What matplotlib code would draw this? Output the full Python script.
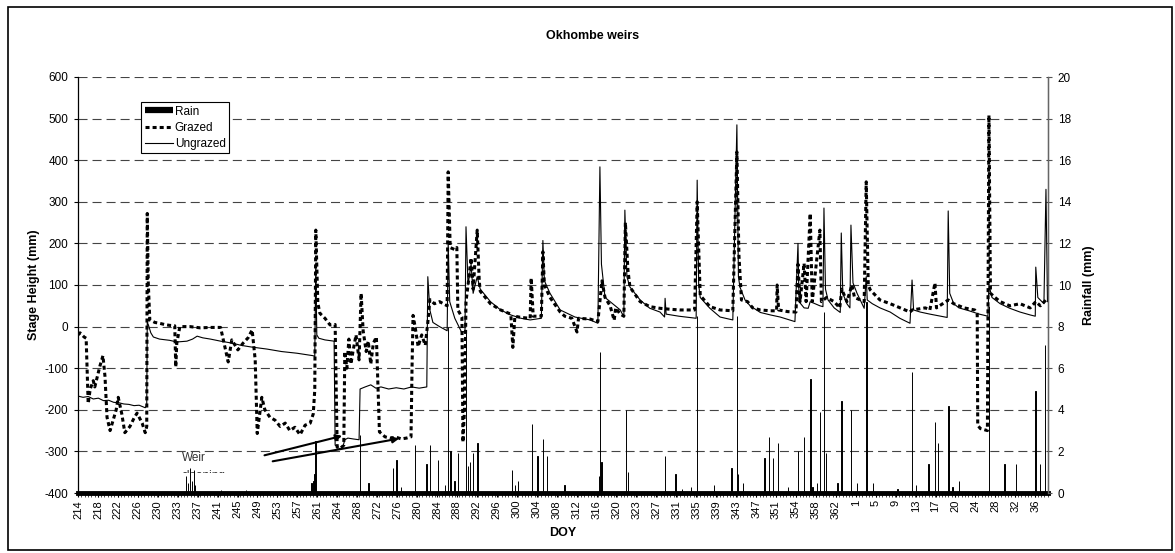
import matplotlib
matplotlib.use("Agg")
import numpy as np
import matplotlib.pyplot as plt
from matplotlib.lines import Line2D
from matplotlib.patches import Rectangle
from matplotlib.transforms import Bbox, TransformedBbox

plt.rcParams['font.family'] = ['Liberation Sans', 'DejaVu Sans']
plt.rcParams['lines.scale_dashes'] = False
plt.rcParams['axes.unicode_minus'] = False

# DOY labels on the category axis (after 365 the count restarts at 1)
doy_labels = ["214", "218", "222", "226", "230", "233", "237", "241", "245", "249",
              "253", "257", "261", "264", "268", "272", "276", "280", "284", "288",
              "292", "296", "300", "304", "308", "312", "316", "320", "323", "327",
              "331", "335", "339", "343", "347", "351", "354", "358", "362", "1",
              "5", "9", "13", "17", "20", "24", "28", "32", "36"]

# (day, stage mm) - day keeps counting past 365
ungrazed = [
    (214.0, -167), (215.0, -170), (216.0, -168), (217.0, -174), (218.0, -172), (219.0, -178),
    (220.0, -177), (221.0, -182), (222.0, -183), (223.0, -186), (224.0, -187), (225.0, -190),
    (226.0, -189), (227.2, -195), (227.5, -190), (227.6, 10), (227.8, 5), (228.3, -15),
    (228.8, -25), (230.0, -30), (232.0, -33), (233.4, -37), (234.5, -36), (235.4, -35),
    (236.5, -30), (237.4, -23), (238.5, -27), (240.0, -30), (242.0, -35), (244.4, -40),
    (246.0, -45), (248.0, -49), (251.1, -54), (254.0, -60), (257.0, -64), (260.2, -70),
    (260.5, -72), (260.7, 150), (260.9, -20), (261.3, -28), (262.5, -32), (264.3, -35),
    (264.5, -285), (265.0, -290), (265.5, -295), (266.0, -290), (266.4, -272), (267.0, -268),
    (268.0, -270), (269.2, -272), (269.4, -150), (270.4, -145), (271.5, -140), (272.5, -148),
    (273.5, -145), (275.0, -150), (276.5, -147), (278.0, -150), (279.5, -145), (281.0, -148),
    (282.5, -145), (282.7, 120), (283.1, 40), (283.7, 10), (285.0, 0), (286.5, -10),
    (286.7, 200), (287.0, 60), (288.0, 20), (289.4, -15), (290.0, -10), (290.2, 240),
    (290.6, 100), (291.2, 150), (291.6, 80), (292.4, 120), (293.0, 90), (295.0, 60),
    (297.0, 40), (299.0, 28), (301.0, 20), (302.8, 16), (305.0, 20), (305.3, 207),
    (305.6, 110), (306.7, 80), (308.7, 40), (311.6, 23), (314.6, 16), (316.1, 8),
    (316.5, 384), (316.8, 150), (317.5, 70), (318.5, 60), (320.5, 40), (321.2, 23),
    (321.4, 280), (321.8, 120), (322.4, 95), (324.4, 64), (326.3, 44), (328.3, 35),
    (329.2, 23), (329.3, 68), (329.5, 30), (332.0, 25), (335.4, 20), (335.6, 352),
    (335.9, 100), (336.2, 70), (338.1, 44), (340.1, 23), (342.6, 16), (343.4, 485),
    (343.7, 120), (344.0, 95), (345.0, 64), (346.0, 50), (348.0, 34), (350.0, 28),
    (351.9, 23), (354.8, 12), (355.4, 200), (355.6, 60), (356.6, 45), (357.4, 44),
    (357.8, 60), (359.7, 50), (360.3, 48), (360.5, 285), (360.8, 90), (361.3, 64),
    (362.5, 45), (363.7, 34), (363.9, 225), (364.2, 80), (365.0, 55), (365.6, 45),
    (365.8, 244), (366.2, 105), (367.0, 80), (368.4, 44), (368.8, 120), (369.0, 64),
    (370.0, 55), (371.5, 45), (373.5, 35), (375.4, 20), (377.4, 8), (377.8, 112),
    (378.1, 40), (379.4, 35), (381.3, 30), (383.0, 26), (384.7, 22), (384.9, 278),
    (385.2, 80), (386.0, 55), (387.0, 45), (389.0, 38), (391.0, 30), (392.7, 25),
    (392.9, 100), (393.5, 70), (395.1, 55), (397.0, 44), (399.0, 35), (401.0, 28),
    (402.0, 25), (402.1, 143), (402.5, 70), (403.7, 55), (404.1, 330), (404.4, 60),
]

grazed = [
    (214.0, -20), (214.4, -15), (215.2, -25), (215.6, -28), (216.0, -185), (216.4, -150),
    (217.0, -130), (217.3, -145), (218.3, -95), (218.9, -70), (219.3, -120), (219.7, -218),
    (220.3, -250), (220.9, -225), (221.5, -200), (221.9, -170), (222.6, -210), (223.2, -255),
    (224.2, -240), (225.0, -220), (225.6, -208), (226.6, -232), (227.2, -255), (227.5, -240),
    (227.6, 272), (227.8, 105), (228.1, 16), (229.1, 10), (230.0, 8), (231.0, 5),
    (232.0, 3), (233.0, 2), (233.2, -97), (233.4, -40), (234.0, 0), (236.0, 0),
    (238.0, -3), (240.0, -2), (242.0, -2), (243.5, -85), (244.2, -32), (245.4, -56),
    (246.4, -40), (247.4, -27), (248.2, -8), (248.8, -80), (249.2, -257), (250.1, -170),
    (250.7, -200), (251.7, -218), (252.7, -225), (253.7, -240), (254.7, -232), (255.6, -250),
    (256.6, -242), (257.6, -260), (258.6, -237), (259.6, -232), (260.2, -210), (260.5, -152),
    (260.7, 232), (261.1, 57), (261.5, 32), (262.5, 20), (263.5, 4), (264.5, 5),
    (264.9, -290), (265.6, -292), (266.2, -285), (266.4, -60), (266.8, -100), (267.2, -30),
    (267.6, -90), (268.0, -60), (268.6, -20), (269.2, -80), (269.6, 80), (270.0, -10),
    (270.6, -60), (271.0, -35), (271.5, -90), (272.0, -40), (272.6, -25), (273.2, -253),
    (274.3, -265), (275.3, -268), (276.5, -266), (277.5, -270), (278.5, -268), (279.4, -265),
    (279.6, -100), (279.8, 27), (280.2, 0), (280.8, -48), (281.5, -20), (282.2, -45),
    (282.7, 10), (283.1, 65), (284.0, 55), (285.0, 60), (286.5, 50), (286.7, 372),
    (287.1, 190), (288.0, 185), (288.4, 190), (288.6, 40), (289.4, 23), (289.6, -278),
    (289.9, -200), (290.2, 60), (290.6, 100), (291.2, 165), (291.6, 90), (292.4, 232),
    (292.8, 110), (293.0, 85), (295.0, 55), (297.0, 40), (299.0, 30), (299.4, -50),
    (299.8, 25), (301.0, 22), (302.8, 20), (303.0, 117), (303.4, 25), (305.0, 25),
    (305.3, 180), (305.6, 100), (306.7, 70), (308.7, 35), (309.6, 25), (311.0, 20),
    (312.0, -13), (312.3, 20), (314.6, 18), (316.1, 12), (316.9, 110), (317.5, 70),
    (318.5, 50), (319.3, 15), (319.6, 45), (320.5, 30), (321.2, 25), (321.5, 250),
    (322.0, 136), (322.4, 95), (324.4, 60), (326.3, 48), (328.3, 44), (330.0, 42),
    (332.2, 40), (335.1, 40), (335.6, 300), (336.2, 75), (338.1, 48), (340.1, 40),
    (342.6, 38), (343.4, 420), (343.8, 172), (344.3, 64), (345.5, 60), (346.5, 45),
    (348.0, 40), (350.0, 38), (351.2, 38), (351.3, 100), (351.6, 40), (353.4, 36),
    (355.0, 35), (355.4, 150), (355.8, 60), (356.6, 152), (357.0, 60), (357.8, 272),
    (358.2, 60), (359.7, 232), (360.0, 60), (361.0, 70), (362.5, 60), (363.6, 45),
    (364.0, 90), (365.0, 60), (366.0, 100), (366.5, 70), (368.4, 60), (368.8, 348),
    (369.2, 100), (369.6, 88), (371.5, 64), (373.5, 55), (374.5, 50), (377.4, 35),
    (377.8, 40), (380.4, 45), (381.3, 40), (382.3, 105), (382.6, 45), (384.9, 64),
    (386.0, 55), (388.0, 45), (390.1, 40), (390.6, 30), (390.7, -237), (391.2, -245),
    (392.0, -248), (392.6, -250), (392.9, 508), (393.2, 80), (394.1, 70), (395.1, 60),
    (397.0, 50), (399.0, 55), (401.0, 45), (402.1, 60), (403.0, 50), (404.1, 64),
]

# (day, rain mm)
rain = [
    (235.2, 0.8), (235.6, 0.5), (236.0, 1.2), (236.4, 0.6), (236.8, 1.1), (237.0, 0.4),
    (242.1, 0.15), (247.0, 0.15), (255.6, 0.1), (259.8, 0.5), (260.2, 0.6), (260.5, 0.9),
    (260.7, 2.5), (269.4, 2.8), (271.0, 0.5), (275.9, 1.2), (276.5, 1.6), (277.4, 0.3),
    (280.2, 2.3), (282.5, 1.4), (283.1, 2.3), (284.7, 1.6), (286.1, 0.4), (286.7, 8.0),
    (287.1, 2.0), (288.0, 0.6), (288.6, 1.9), (290.2, 7.7), (290.6, 1.3), (291.0, 1.5),
    (291.6, 1.9), (292.4, 2.4), (299.2, 1.1), (299.8, 0.4), (300.4, 0.6), (303.2, 3.3),
    (304.3, 1.8), (305.3, 2.6), (306.1, 1.8), (309.6, 0.4), (316.3, 0.8), (316.5, 6.8),
    (316.8, 1.5), (321.6, 4.0), (322.0, 1.0), (329.3, 1.8), (331.4, 0.9), (332.6, 0.2),
    (334.4, 0.3), (335.6, 8.5), (338.9, 0.4), (342.4, 1.2), (343.4, 8.5), (343.6, 0.9),
    (344.6, 0.5), (348.8, 1.7), (349.7, 2.7), (350.5, 1.7), (351.5, 2.4), (353.4, 0.3),
    (355.4, 2.0), (356.6, 2.7), (357.8, 5.5), (358.2, 0.3), (359.1, 0.5), (359.7, 3.9),
    (360.5, 8.7), (360.9, 1.9), (363.1, 0.5), (363.9, 4.4), (365.8, 4.0), (367.0, 0.5),
    (368.8, 9.2), (370.1, 0.5), (374.9, 0.2), (377.8, 5.8), (378.6, 0.4), (381.0, 1.4),
    (382.3, 3.4), (382.9, 2.4), (384.9, 4.2), (385.8, 0.3), (387.0, 0.6), (392.9, 9.0),
    (395.9, 1.4), (398.2, 1.4), (402.1, 4.9), (402.9, 1.4), (403.9, 7.1),
]

u_day, u_stage = np.array(ungrazed).T
g_day, g_stage = np.array(grazed).T
r_day, r_mm = np.array(rain).T

fig = plt.figure(figsize=(11.75, 5.53), dpi=100)
ax = fig.add_axes([78 / 1175, 1 - 493 / 553, 970 / 1175, 416 / 553])
ax2 = ax.twinx()

# stage lines
ax.plot(u_day, u_stage, color='black', lw=0.8, zorder=3)
ax.plot(g_day, g_stage, color='black', lw=2.2, linestyle=(0, (2.9, 2.2)),
        dash_capstyle='butt', zorder=3)

# rain bars on secondary axis
ax2.bar(r_day, r_mm, width=0.12, color='black', edgecolor='black', linewidth=0.7)

# axes ranges / ticks
tick_pos = np.linspace(214, 402, len(doy_labels))
ax.set_xlim(214, 404.5)
ax.set_ylim(-400, 600)
ax2.set_ylim(0, 20)
ax.set_xticks(tick_pos)
ax.set_xticklabels(doy_labels, rotation=90, fontsize=8)
ax.set_xticks(np.arange(214, 404.5, 0.65), minor=True)
ax.tick_params(axis='x', which='major', length=3, width=0.8, pad=2)
ax.tick_params(axis='x', which='minor', length=3, width=0.5)
ax.set_yticks(np.arange(-400, 601, 100))
ax.tick_params(axis='y', labelsize=8.5, length=3, pad=4)
ax2.set_yticks(np.arange(0, 21, 2))
ax2.tick_params(axis='y', labelsize=8.5, length=3, pad=4, color='#555555')

ax.grid(axis='y', color='#444444', linestyle=(0, (6.5, 3.6)), lw=0.8)
ax.set_axisbelow(True)

for a in (ax, ax2):
    a.spines['top'].set_visible(False)
ax.spines['bottom'].set_linewidth(3.5)
ax.spines['left'].set_linewidth(0.9)
ax2.spines['right'].set_color('#666666')
ax2.spines['right'].set_linewidth(1.0)
ax2.spines['bottom'].set_visible(False)
ax2.spines['left'].set_visible(False)

ax.set_xlabel("DOY", fontsize=9, fontweight='bold', labelpad=6)
ax.set_ylabel("Stage Height (mm)", fontsize=9, fontweight='bold', labelpad=3)
ax2.set_ylabel("Rainfall (mm)", fontsize=9, fontweight='bold', labelpad=9)

fig.text(593 / 1175, 1 - 36 / 553, "Okhombe weirs", ha='center', va='center',
         fontsize=9, fontweight='bold')

# weir cleaning note (second line cut off as in the original) and arrows
ax.text(234.4, -316, "Weir", fontsize=8.5, color='#333333', ha='left', va='center')
t2 = ax.text(234.4, -366, "cleaning", fontsize=8.5, color='#333333', ha='left', va='baseline')
t2.set_clip_on(True)
t2.set_clip_box(TransformedBbox(Bbox([[225, -352], [265, -290]]), ax.transData))
ax.annotate("", xy=(266.4, -261), xytext=(250.1, -311),
            arrowprops=dict(arrowstyle='-|>', color='black', lw=1.5, mutation_scale=9))
ax.annotate("", xy=(277.6, -268), xytext=(251.7, -325),
            arrowprops=dict(arrowstyle='-|>', color='black', lw=1.5, mutation_scale=9))

handles = [Line2D([], [], color='black', lw=4.5, solid_capstyle='butt'),
           Line2D([], [], color='black', lw=2.2, linestyle=(0, (2.9, 2.2))),
           Line2D([], [], color='black', lw=0.8)]
leg = ax2.legend(handles, ["Rain", "Grazed", "Ungrazed"], loc='upper left',
                 bbox_to_anchor=(0.065, 0.94), fontsize=8.5, frameon=True, fancybox=False,
                 edgecolor='black', framealpha=1, borderpad=0.3, labelspacing=0.35,
                 handlelength=2.4, handletextpad=0.15, borderaxespad=0)
leg.get_frame().set_linewidth(0.8)

fig.add_artist(Rectangle((8 / 1175, 1 - 550 / 553), 1164 / 1175, 543 / 553,
                         transform=fig.transFigure, fill=False, lw=1.2, ec='black'))

fig.savefig("out.png", dpi=100)
